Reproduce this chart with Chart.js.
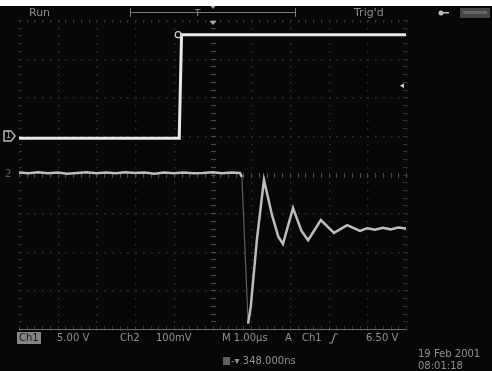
<!DOCTYPE html>
<html>
<head>
<meta charset="utf-8">
<script src="https://cdn.jsdelivr.net/npm/chart.js@4.4.0/dist/chart.umd.min.js"></script>
<style>
html, body { margin: 0; padding: 0; background: #fff; }
canvas { display: block; }
</style>
</head>
<body>
<canvas id="scope" width="492" height="371"></canvas>
<script>
// horizontal: M 1.00µs / div, 10 divisions
const timeTicks = [-5, -4, -3, -2, -1, 0, 1, 2, 3, 4, 5];
// CH1 5.00 V / div, ground one division above centre
const ch1Ticks = [-25, -20, -15, -10, -5, 0, 5, 10, 15];
const ch1Time = [-5, -0.86, -0.80, 5];
const ch1Volts = [-0.3, -0.3, 13.1, 13.1];
// CH2 100mV / div
const ch2Time = [-5.0, -4.75, -4.5, -4.25, -4.0, -3.75, -3.5, -3.25, -3.0, -2.75, -2.5, -2.25, -2.0,
    -1.75, -1.5, -1.25, -1.0, -0.75, -0.5, -0.25, 0.0, 0.25, 0.5, 0.71, 0.76, 0.92, 0.99, 1.15,
    1.33, 1.54, 1.70, 1.82, 2.08, 2.30, 2.47, 2.80, 3.14, 3.48, 3.81, 4.0, 4.2, 4.4, 4.6, 4.8, 5.0];
const ch2MilliVolts = [1, -1, 2, -1, 1, -2, 0, 2, -1, 1, -1, 2, 0,
    1, -2, 1, -1, 1, -1, 0, 2, -1, 1, 0, -10, -390, -345, -170,
    -18, -110, -165, -184, -91, -150, -174, -122, -155, -135, -150, -143, -147, -142, -146, -141, -144];
const triggerLevel = 6.5;

const labelFont = '10px "DejaVu Sans"';

const scopeScreen = {
    id: 'scopeScreen',
    beforeDraw(chart) {
        const { ctx, width, height } = chart;
        ctx.save();
        ctx.fillStyle = '#070707';
        ctx.fillRect(0, 0, width, height);
        ctx.fillStyle = '#ffffff';
        ctx.fillRect(0, 0, width, 6);
        ctx.restore();
    },
    beforeDatasetsDraw(chart) {
        const { ctx, chartArea: a, scales: { x, y } } = chart;
        const px = (t) => Math.round(x.getPixelForValue(t));
        const py = (v) => Math.round(y.getPixelForValue(v));
        ctx.save();
        // dotted graticule, one dot each 0.2 div
        ctx.fillStyle = '#303030';
        timeTicks.forEach((t) => {
            for (let v = -25; v <= 15; v += 1) ctx.fillRect(px(t), py(v), 1.5, 1.5);
        });
        ch1Ticks.forEach((v) => {
            for (let t = -5; t <= 5.001; t += 0.2) ctx.fillRect(px(t), py(v), 1.5, 1.5);
        });
        // centre cross with minor ticks
        ctx.fillStyle = '#4a4a4a';
        for (let v = -25; v <= 15; v += 1) ctx.fillRect(px(0) - 2, py(v), 5, 1);
        for (let t = -5; t <= 5.001; t += 0.2) ctx.fillRect(px(t), py(-5) - 2, 1, 5);
        // edge ticks
        ctx.fillStyle = '#333';
        for (let t = -5; t <= 5.001; t += 0.2) {
            ctx.fillRect(px(t), a.top, 1, 3);
            ctx.fillRect(px(t), a.bottom - 3, 1, 3);
        }
        for (let v = -25; v <= 15; v += 1) {
            ctx.fillRect(a.left, py(v), 3, 1);
            ctx.fillRect(a.right - 3, py(v), 3, 1);
        }
        ctx.strokeStyle = '#6a6a6a';
        ctx.lineWidth = 1;
        ctx.beginPath();
        ctx.moveTo(a.left, a.bottom + 0.5);
        ctx.lineTo(a.right, a.bottom + 0.5);
        ctx.stroke();
        ctx.restore();
    },
    afterDraw(chart) {
        const { ctx, chartArea: a, scales: { x, y, y2 } } = chart;
        ctx.save();
        ctx.font = '11px "DejaVu Sans"';
        ctx.textBaseline = 'middle';
        ctx.fillStyle = '#8e8e8e';
        ctx.fillText('Run', 29, 13);
        ctx.fillText("Trig'd", 354, 13);

        // horizontal record bracket
        ctx.strokeStyle = '#7a7a7a';
        ctx.lineWidth = 1;
        ctx.beginPath();
        ctx.moveTo(130.5, 8); ctx.lineTo(130.5, 17);
        ctx.moveTo(130, 12.5); ctx.lineTo(295, 12.5);
        ctx.moveTo(295.5, 8); ctx.lineTo(295.5, 17);
        ctx.stroke();
        ctx.font = '9px "DejaVu Sans"';
        ctx.fillStyle = '#9a9a9a';
        ctx.fillText('T', 195, 14);
        const t0 = x.getPixelForValue(0);
        ctx.fillStyle = '#a8a8a8';
        ctx.beginPath();
        ctx.moveTo(t0 - 2, 6); ctx.lineTo(t0 + 3, 6); ctx.lineTo(t0 + 0.5, 9); ctx.fill();
        ctx.beginPath();
        ctx.moveTo(t0 - 3, a.top + 1); ctx.lineTo(t0 + 4, a.top + 1); ctx.lineTo(t0 + 0.5, a.top + 5); ctx.fill();

        // top right symbols
        ctx.fillStyle = '#c0c0c0';
        ctx.beginPath(); ctx.arc(441, 13, 2.5, 0, Math.PI * 2); ctx.fill();
        ctx.fillRect(443, 12, 6, 1.5);
        ctx.fillStyle = '#444';
        ctx.fillRect(460, 8, 30, 10);
        ctx.fillStyle = '#666';
        ctx.fillRect(463, 11, 24, 3);

        // channel ground markers
        const g1 = y.getPixelForValue(0);
        const g2 = y2.getPixelForValue(0);
        ctx.strokeStyle = '#b5b5b5';
        ctx.lineWidth = 1.5;
        ctx.beginPath();
        ctx.moveTo(4, g1 - 5); ctx.lineTo(11, g1 - 5); ctx.lineTo(15, g1); ctx.lineTo(11, g1 + 5); ctx.lineTo(4, g1 + 5); ctx.closePath();
        ctx.stroke();
        ctx.font = '8px "DejaVu Sans"';
        ctx.fillStyle = '#b5b5b5';
        ctx.fillText('1', 6, g1 + 0.5);
        ctx.fillStyle = '#5e5e5e';
        ctx.font = '10px "DejaVu Sans"';
        ctx.fillText('2', 5, g2 + 1);

        // trigger level marker
        const tl = y.getPixelForValue(triggerLevel);
        ctx.fillStyle = '#cfcfcf';
        ctx.beginPath();
        ctx.moveTo(a.right - 6, tl); ctx.lineTo(a.right - 2, tl - 2.5); ctx.lineTo(a.right - 2, tl + 2.5); ctx.fill();

        // ch1 marker at the step
        ctx.strokeStyle = '#cfcfcf';
        ctx.lineWidth = 1.2;
        ctx.beginPath();
        ctx.arc(x.getPixelForValue(-0.86) - 1, y.getPixelForValue(13.1), 3, 0, Math.PI * 2);
        ctx.stroke();

        // bottom readout
        ctx.font = labelFont;
        ctx.fillStyle = '#858585';
        ctx.fillRect(17, 332, 24, 12);
        ctx.fillStyle = '#1a1a1a';
        ctx.fillText('Ch1', 19, 338.5);
        ctx.fillStyle = '#909090';
        ctx.fillText('5.00 V', 57, 338.5);
        ctx.fillText('Ch2', 120, 338.5);
        ctx.fillText('100mV', 156, 338.5);
        ctx.fillText('M 1.00µs', 222, 338.5);
        ctx.fillText('A', 285, 338.5);
        ctx.fillText('Ch1', 302, 338.5);
        ctx.strokeStyle = '#909090';
        ctx.lineWidth = 1.2;
        ctx.beginPath();
        ctx.moveTo(329, 343); ctx.lineTo(332, 343); ctx.lineTo(335, 334); ctx.lineTo(338, 334);
        ctx.stroke();
        ctx.fillText('6.50 V', 366, 338.5);

        ctx.fillStyle = '#606060';
        ctx.fillRect(223, 357, 7, 8);
        ctx.fillStyle = '#909090';
        ctx.fillText('-▾ 348.000ns', 231, 361.5);
        ctx.fillText('19 Feb 2001', 418, 354);
        ctx.fillText('08:01:18', 418, 366);
        ctx.restore();
    }
};

const steepSegment = (ctx) => {
    const dt = ctx.p1.parsed.x - ctx.p0.parsed.x;
    const dv = ctx.p1.parsed.y - ctx.p0.parsed.y;
    return Math.abs(dv / dt) > 1500 ? 'rgba(200,200,200,0.45)' : undefined;
};

const chart = new Chart(document.getElementById('scope').getContext('2d'), {
    type: 'line',
    data: {
        datasets: [{
            label: 'Ch1',
            data: ch1Time.map((t, i) => ({ x: t, y: ch1Volts[i] })),
            yAxisID: 'y',
            borderColor: '#e8e8e8',
            borderWidth: 3,
            pointRadius: 0,
            tension: 0
        }, {
            label: 'Ch2',
            data: ch2Time.map((t, i) => ({ x: t, y: ch2MilliVolts[i] })),
            yAxisID: 'y2',
            borderColor: '#bdbdbd',
            borderWidth: 2.5,
            pointRadius: 0,
            tension: 0,
            segment: { borderColor: steepSegment, borderWidth: (ctx) => steepSegment(ctx) ? 1.2 : undefined }
        }]
    },
    options: {
        responsive: false,
        animation: false,
        devicePixelRatio: 1,
        layout: { padding: { left: 19, right: 86, top: 20, bottom: 42 } },
        plugins: { legend: { display: false }, tooltip: { enabled: false } },
        scales: {
            x: {
                type: 'linear', min: -5, max: 5,
                ticks: { display: false, stepSize: 1 },
                grid: { display: false, drawTicks: false },
                border: { display: false }
            },
            y: {
                min: -25, max: 15,
                ticks: { display: false, stepSize: 5 },
                grid: { display: false, drawTicks: false },
                border: { display: false }
            },
            y2: {
                display: false,
                min: -404, max: 396
            }
        }
    },
    plugins: [scopeScreen]
});
</script>
</body>
</html>
